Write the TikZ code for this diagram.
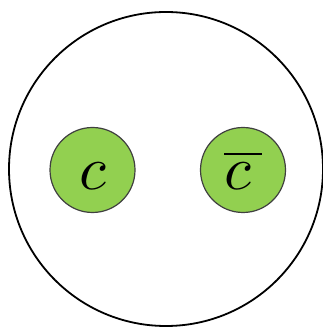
\documentclass[tikz,border=0pt]{standalone}
\usepackage{graphicx}
\usetikzlibrary{positioning}

\definecolor{quarkgreen}{HTML}{92D050}
\newcommand{\bigsym}[1]{\scalebox{6.2}{$#1$}}

\begin{document}
\begin{tikzpicture}[
  x=1pt, y=1pt,
  % ---- styles ----
  meson/.style = {
    circle, draw=black, line width=1.8pt,
    minimum size=314pt, inner sep=0pt
  },
  quark/.style = {
    circle, draw=black!75, line width=1.2pt,
    fill=quarkgreen,
    minimum size=85pt, inner sep=0pt
  }
]
\useasboundingbox (0,0) rectangle (323,334);

% ============ MESON ============
\node[meson] (bag) at (166,165) {};

% ============ QUARKS ============
\node[quark] (charm) at (92.5,164) {\bigsym{\vphantom{\overline{c}}c}};
\node[quark] (anticharm) at (243,164) {\bigsym{\overline{c\,}}};

\end{tikzpicture}
\end{document}
